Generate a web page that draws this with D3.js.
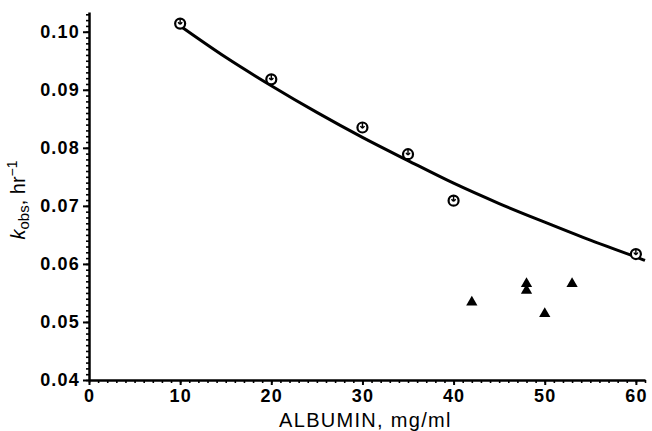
<!DOCTYPE html>
<html>
<head>
<meta charset="utf-8">
<script src="https://cdn.jsdelivr.net/npm/d3@7"></script>
<style>
  body { margin: 0; background: #fff; }
  svg { display: block; font-family: "Liberation Sans", Arial, sans-serif; }
</style>
</head>
<body>
<div id="chart"></div>
<script>
// circles (open)
const circleX = [10, 20, 30, 35, 40, 60];
const circleY = [0.1014, 0.0918, 0.0835, 0.0789, 0.0709, 0.0617];
// triangles (filled)
const triX = [42, 48, 48, 50, 53];
const triY = [0.0534, 0.0566, 0.0554, 0.0514, 0.0566];
// fitted curve
const curveX = [10, 15, 20, 25, 30, 35, 40, 45, 50, 55, 60, 61];
const curveY = [0.1010, 0.0956, 0.0907, 0.0861, 0.0818, 0.0778, 0.0739, 0.0704, 0.0672, 0.0641, 0.0612, 0.0606];
const xTicks = [0, 10, 20, 30, 40, 50, 60];
const yTicks = [0.04, 0.05, 0.06, 0.07, 0.08, 0.09, 0.10];

const width = 652, height = 431;

const svg = d3.select("#chart")
    .append("svg")
    .attr("width", width)
    .attr("height", height);

const x = d3.scaleLinear()
    .domain([0, 61])
    .range([89, 645]);

const y = d3.scaleLinear()
    .domain([0.04, 0.1034])
    .range([380, 12]);

// minor ticks
const xMinor = d3.range(0, 62, 1);
const yMinor = d3.range(40, 104, 1).map(v => v / 1000);

svg.append("g")
    .attr("transform", `translate(0,${y(0.04)})`)
    .call(d3.axisBottom(x).tickValues(xMinor).tickSize(3).tickFormat(""))
    .call(g => g.select(".domain").remove())
    .selectAll("line").attr("stroke-width", 1.6);

svg.append("g")
    .attr("transform", `translate(${x(0)},0)`)
    .call(d3.axisLeft(y).tickValues(yMinor).tickSize(3).tickFormat(""))
    .call(g => g.select(".domain").remove())
    .selectAll("line").attr("stroke-width", 1.6);

// major axes
const xAxis = svg.append("g")
    .attr("transform", `translate(0,${y(0.04)})`)
    .call(d3.axisBottom(x).tickValues(xTicks).tickSize(5).tickSizeOuter(0).tickPadding(4));

const yAxis = svg.append("g")
    .attr("transform", `translate(${x(0)},0)`)
    .call(d3.axisLeft(y).tickValues(yTicks).tickSize(6).tickSizeOuter(0).tickPadding(3)
        .tickFormat(d3.format(".2f")));

[xAxis, yAxis].forEach(g => {
    g.select(".domain").attr("stroke-width", 2.5);
    g.selectAll("line").attr("stroke-width", 2);
    g.selectAll("text")
        .attr("fill", "#000")
        .style("font-size", "18px")
        .style("font-weight", "bold")
        .style("letter-spacing", "1.2px");
});

// axis titles
svg.append("text")
    .attr("text-anchor", "middle")
    .attr("x", x(30) + 3)
    .attr("y", 427)
    .style("font-size", "20px")
    .style("letter-spacing", "1.3px")
    .text("ALBUMIN, mg/ml");

const yt = svg.append("text")
    .attr("text-anchor", "middle")
    .attr("transform", `translate(25,200) rotate(-90)`)
    .style("font-size", "20px");
yt.append("tspan").style("font-style", "italic").text("k");
yt.append("tspan").attr("dy", 4).style("font-size", "15px").text("obs");
yt.append("tspan").attr("dy", -4).text(", hr");
yt.append("tspan").attr("dy", -8).style("font-size", "14px").text("−1");

// curve
const line = d3.line()
    .x((d, i) => x(curveX[i]))
    .y(d => y(d))
    .curve(d3.curveMonotoneX);

svg.append("path")
    .datum(curveY)
    .attr("fill", "none")
    .attr("stroke", "#000")
    .attr("stroke-width", 3)
    .attr("d", line);

// open circles
const circ = svg.selectAll(".pt")
    .data(circleX)
    .enter()
    .append("g")
    .attr("transform", (d, i) => `translate(${x(d)},${y(circleY[i])})`);

circ.append("circle")
    .attr("r", 5)
    .attr("fill", "#fff")
    .attr("stroke", "#000")
    .attr("stroke-width", 2.2);

circ.append("path")
    .attr("d", "M-2,-1.5 Q0,2.5 2,-1.5 M0,-5 L0,0")
    .attr("fill", "none")
    .attr("stroke", "#000")
    .attr("stroke-width", 1.4);

// triangles
svg.selectAll(".tri")
    .data(triX)
    .enter()
    .append("path")
    .attr("d", d3.symbol().type(d3.symbolTriangle).size(55))
    .attr("transform", (d, i) => `translate(${x(d)},${y(triY[i])})`)
    .attr("fill", "#000");
</script>
</body>
</html>
